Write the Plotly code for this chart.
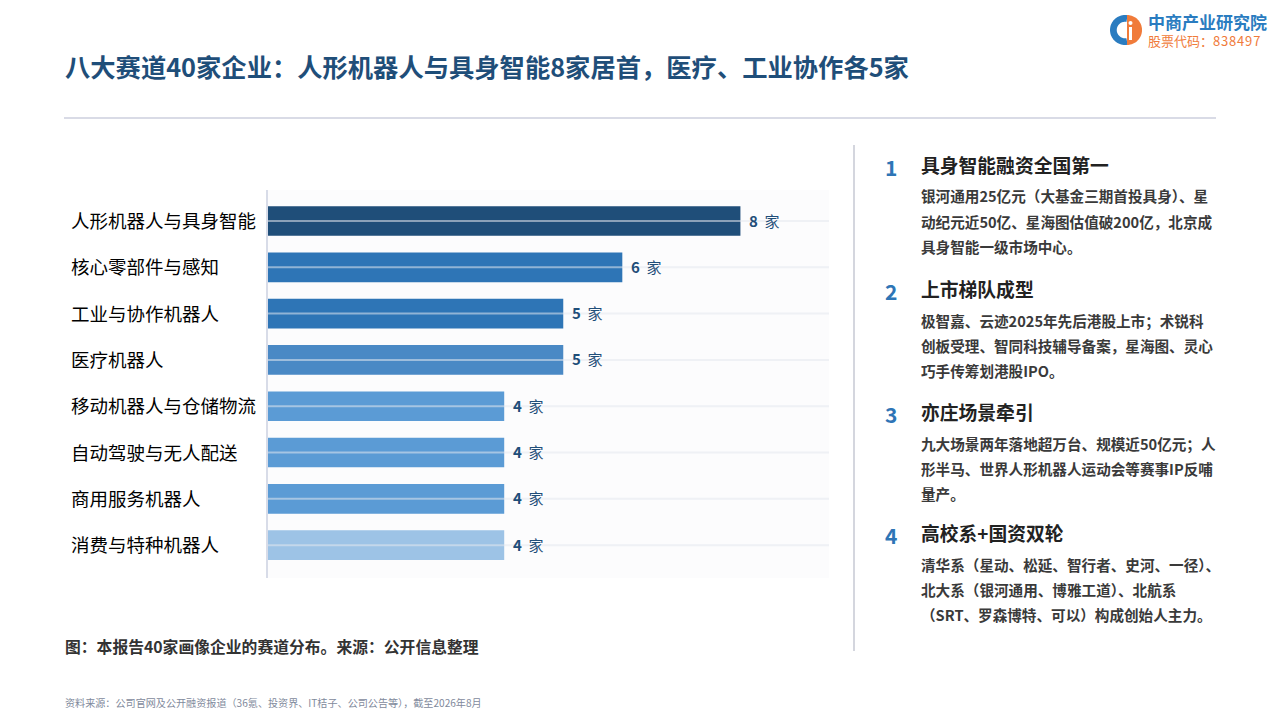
import math
import plotly.graph_objects as go

# ---- data ----
categories = [
    "人形机器人与具身智能",
    "核心零部件与感知",
    "工业与协作机器人",
    "医疗机器人",
    "移动机器人与仓储物流",
    "自动驾驶与无人配送",
    "商用服务机器人",
    "消费与特种机器人",
]
counts = [8, 6, 5, 5, 4, 4, 4, 4]
bar_colors = ["#1f4e79", "#2e75b6", "#2e75b6", "#4a89c5",
              "#5b9bd5", "#5b9bd5", "#5b9bd5", "#9dc3e6"]

title_text = "八大赛道40家企业：人形机器人与具身智能8家居首，医疗、工业协作各5家"
caption_text = "图：本报告40家画像企业的赛道分布。来源：公开信息整理"
source_text = "资料来源：公司官网及公开融资报道（36氪、投资界、IT桔子、公司公告等），截至2026年8月"

point_nums = ["1", "2", "3", "4"]
point_heads = ["具身智能融资全国第一", "上市梯队成型", "亦庄场景牵引", "高校系+国资双轮"]
point_lines = [
    ["银河通用25亿元（大基金三期首投具身）、星",
     "动纪元近50亿、星海图估值破200亿，北京成",
     "具身智能一级市场中心。"],
    ["极智嘉、云迹2025年先后港股上市；术锐科",
     "创板受理、智同科技辅导备案，星海图、灵心",
     "巧手传筹划港股IPO。"],
    ["九大场景两年落地超万台、规模近50亿元；人",
     "形半马、世界人形机器人运动会等赛事IP反哺",
     "量产。"],
    ["清华系（星动、松延、智行者、史河、一径）、",
     "北大系（银河通用、博雅工道）、北航系",
     "（SRT、罗森博特、可以）构成创始人主力。"],
]

# ---- geometry helpers (screenshot pixel -> paper) ----
W, H = 1280, 720
OFF = 8  # page body margin
L, R, T, B = 268, 829, 190, 578  # plot area in screenshot pixels


def px(x):
    return (x - L) / (R - L)


def py(y):
    return (B - y) / (B - T)


FONT = "Noto Sans CJK SC"

fig = go.Figure()
fig.add_trace(go.Bar(
    x=counts,
    y=categories,
    orientation="h",
    width=0.64,
    marker=dict(color=bar_colors, line=dict(width=0)),
    showlegend=False,
    hoverinfo="skip",
))

annotations = []

# value labels
for c, v in zip(categories, counts):
    annotations.append(dict(
        x=v, y=c, xref="x", yref="y", xanchor="left", yanchor="middle",
        xshift=7, yshift=1, showarrow=False,
        text=f"<b>{v}</b>  家",
        font=dict(family=FONT, size=15, color="#1f4e79"),
    ))

# category labels (left aligned)
for c in categories:
    annotations.append(dict(
        x=px(69), y=c, xref="paper", yref="y", xanchor="left", yanchor="middle",
        yshift=1, showarrow=False, text=c,
        font=dict(family=FONT, size=18.5, color="#000000"),
    ))

# title
annotations.append(dict(
    x=px(63), y=py(66), xref="paper", yref="paper", xanchor="left", yanchor="middle",
    showarrow=False, text=f"<b>{title_text}</b>",
    font=dict(family=FONT, size=25.3, color="#1f4e79"),
))

# caption & source
annotations.append(dict(
    x=px(63), y=py(646), xref="paper", yref="paper", xanchor="left", yanchor="middle",
    showarrow=False, text=f"<b>{caption_text}</b>",
    font=dict(family=FONT, size=15.8, color="#333333"),
))
annotations.append(dict(
    x=px(63), y=py(702), xref="paper", yref="paper", xanchor="left", yanchor="middle",
    showarrow=False, text=source_text,
    font=dict(family=FONT, size=10.1, color="#7f8a9c"),
))

# right-hand key points
head_y = [164, 288, 411, 532]
for num, head, lines, hy in zip(point_nums, point_heads, point_lines, head_y):
    annotations.append(dict(
        x=px(891), y=py(hy + 3), xref="paper", yref="paper", xanchor="center", yanchor="middle",
        showarrow=False, text=f"<b>{num}</b>",
        font=dict(family=FONT, size=21, color="#2e75b6"),
    ))
    annotations.append(dict(
        x=px(919), y=py(hy), xref="paper", yref="paper", xanchor="left", yanchor="middle",
        showarrow=False, text=f"<b>{head}</b>",
        font=dict(family=FONT, size=18.8, color="#222222"),
    ))
    for i, ln in enumerate(lines):
        annotations.append(dict(
            x=px(919), y=py(hy + 32 + 25 * i), xref="paper", yref="paper",
            xanchor="left", yanchor="middle", showarrow=False,
            text=f"<b>{ln}</b>",
            font=dict(family=FONT, size=14.6, color="#3a3a3a"),
        ))

# logo text: one block, two lines
annotations.append(dict(
    x=px(1146), y=py(30), xref="paper", yref="paper", xanchor="left", yanchor="middle",
    align="left", showarrow=False,
    text=("<span style='font-size:17px;color:#2a7cc0'><b>中商产业研究院</b></span><br>"
          "股票代码：8\u200a3\u200a8\u200a4\u200a9\u200a7"),
    font=dict(family=FONT, size=13, color="#f07b3a"),
))

shapes = [
    # rule under title
    dict(type="line", xref="paper", yref="paper", x0=px(64), x1=px(1216), y0=py(118), y1=py(118),
         line=dict(color="#d9dbe6", width=2)),
    # vertical divider
    dict(type="line", xref="paper", yref="paper", x0=px(854), x1=px(854), y0=py(145), y1=py(651),
         line=dict(color="#d4d6de", width=2)),
]

# light guide line through each category (drawn above bars)
for c in categories:
    shapes.append(dict(type="line", xref="paper", yref="y", x0=0, x1=1, y0=c, y1=c,
                       layer="above", line=dict(color="rgba(228,231,238,0.55)", width=2)))

# logo icon: blue C on the left, orange half on the right
cx, cy, r = 1126, 30, 15


def ppath(points):
    return "M " + " L ".join(f"{px(a):.5f},{py(b):.5f}" for a, b in points) + " Z"


blue_pts = []
for k in range(0, 41):
    ang = math.radians(80 + 200 * k / 40)
    blue_pts.append((cx - 1 + r * math.cos(ang), cy - r * math.sin(ang)))
for k in range(40, -1, -1):
    ang = math.radians(80 + 200 * k / 40)
    blue_pts.append((cx - 1 + 0.55 * r * math.cos(ang), cy - 0.55 * r * math.sin(ang)))
shapes.append(dict(type="path", xref="paper", yref="paper", path=ppath(blue_pts),
                   fillcolor="#2a7cc0", line=dict(width=0)))
orange_pts = []
for k in range(0, 41):
    ang = math.radians(-90 + 180 * k / 40)
    orange_pts.append((cx + 1 + r * math.cos(ang), cy - r * math.sin(ang)))
shapes.append(dict(type="path", xref="paper", yref="paper", path=ppath(orange_pts),
                   fillcolor="#f07b3a", line=dict(width=0)))
shapes.append(dict(type="rect", xref="paper", yref="paper",
                   x0=px(cx + 3), x1=px(cx + 6), y0=py(cy + 10), y1=py(cy - 3),
                   fillcolor="white", line=dict(width=0)))
shapes.append(dict(type="circle", xref="paper", yref="paper",
                   x0=px(cx + 2.5), x1=px(cx + 6.5), y0=py(cy - 5), y1=py(cy - 9),
                   fillcolor="white", line=dict(width=0)))

fig.update_layout(
    width=W, height=H,
    margin=dict(l=L - OFF, r=W - (R - OFF), t=T - OFF, b=H - (B - OFF), pad=0),
    paper_bgcolor="white",
    plot_bgcolor="#fcfcfd",
    font=dict(family=FONT),
    annotations=annotations,
    shapes=shapes,
    xaxis=dict(range=[0, 9.5], visible=False, fixedrange=True),
    yaxis=dict(
        categoryorder="array", categoryarray=categories,
        range=[len(categories) - 1 + 0.71, -0.67],
        showticklabels=False, ticks="",
        showgrid=False,
        showline=True, linecolor="#d8dce8", linewidth=1.5,
        zeroline=False, fixedrange=True,
    ),
)

fig.write_html("out.html")
